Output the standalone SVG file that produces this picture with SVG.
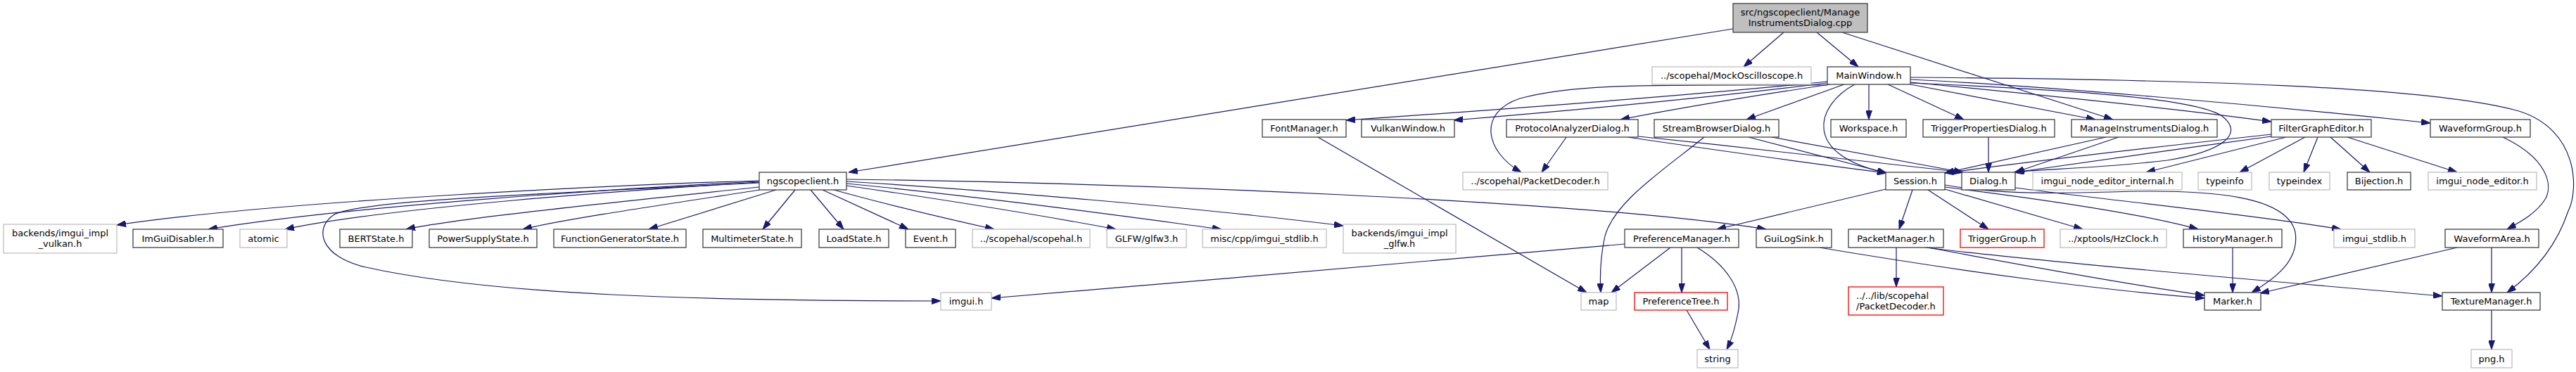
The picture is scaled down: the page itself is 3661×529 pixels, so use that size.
<svg xmlns="http://www.w3.org/2000/svg" width="3661" height="529" viewBox="0 0 3661 529">
<style>
text{font-family:"DejaVu Sans","Liberation Sans",sans-serif;font-size:13px;fill:#000;text-anchor:middle}
.n rect{fill:#fff;stroke:#404040;stroke-width:1.3}
.g rect{fill:#fff;stroke:#bfbfbf;stroke-width:1.3}
.r rect{fill:#fff;stroke:#ff0000;stroke-width:1.3}
.t rect{fill:#bfbfbf;stroke:#404040;stroke-width:1.3}
#edges path{fill:none;stroke:#191970;stroke-width:1.2;marker-end:url(#a)}
</style>
<defs>
<marker id="a" markerWidth="13" markerHeight="9" refX="13" refY="4.5" orient="auto" markerUnits="userSpaceOnUse"><path d="M0,0 L13,4.5 L0,9 z" fill="#191970" stroke="#191970" stroke-width="1"/></marker>
</defs>
<rect width="3661" height="529" fill="#fff"/>
<g id="edges">
<path d="M2463,41 L1206,245"/>
<path d="M2535,46 L2478,95"/>
<path d="M2582,46 L2641,95"/>
<path d="M2618,46 L3003,170"/>
<path d="M2597,116 C2400,136 2100,158 1913,171"/>
<path d="M2597,118 C2420,140 2200,160 2066,171"/>
<path d="M2601,120 C2500,135 2380,155 2303,170"/>
<path d="M2597,121 C2350,121 2240,118 2160,140 C2100,160 2110,215 2162,245"/>
<path d="M2621,120 L2482,170"/>
<path d="M2636,120 C2580,150 2560,220 2681,246"/>
<path d="M2656,120 L2656,170"/>
<path d="M2683,120 L2791,170"/>
<path d="M2715,120 L2978,170"/>
<path d="M2715,117 C2850,130 3100,155 3228,173"/>
<path d="M2715,113 C2900,122 3200,148 3454,175"/>
<path d="M2715,110 C3100,113 3450,122 3580,158 C3665,185 3665,270 3650,300 C3635,345 3605,385 3563,416"/>
<path d="M2715,118 C2950,128 3120,140 3158,165 C3190,190 3160,215 3080,228 C2980,240 2900,240 2862,245"/>
<path d="M2313,195 C2450,215 2600,236 2681,246"/>
<path d="M2329,194 C2500,212 2700,234 2790,245"/>
<path d="M2485,195 L2681,246"/>
<path d="M2518,195 L2790,245"/>
<path d="M2422,195 C2360,245 2290,290 2280,340 C2274,370 2274,400 2275,416"/>
<path d="M2826,195 L2826,245"/>
<path d="M2993,195 L2764,246"/>
<path d="M3011,195 L2864,245"/>
<path d="M3228,191 C3100,205 2900,228 2764,246"/>
<path d="M3228,194 C3100,211 2950,233 2864,245"/>
<path d="M3249,195 L3050,245"/>
<path d="M3276,195 L3183,245"/>
<path d="M3294,195 L3274,245"/>
<path d="M3312,195 L3368,245"/>
<path d="M3336,195 L3492,245"/>
<path d="M3557,195 C3620,225 3628,262 3618,282 C3606,302 3585,314 3563,326"/>
<path d="M1873,195 L2255,416"/>
<path d="M2226,195 L2191,245"/>
<path d="M2680,269 L2440,326"/>
<path d="M2718,270 L2699,326"/>
<path d="M2740,270 L2826,326"/>
<path d="M2764,269 L2960,326"/>
<path d="M2764,266 C2900,283 3050,305 3124,326"/>
<path d="M2764,263 C2830,275 2900,276 3000,273 C3150,268 3250,280 3262,330 C3268,370 3235,395 3200,416"/>
<path d="M2864,267 C3000,285 3200,305 3327,326"/>
<path d="M1079,257 C900,262 400,285 166,320"/>
<path d="M1079,258 C900,267 500,292 296,326"/>
<path d="M1079,259 C900,270 550,295 405,326"/>
<path d="M1079,260 C800,275 520,283 475,305 C445,325 455,365 520,380 C700,420 1000,428 1337,428"/>
<path d="M1079,266 C900,285 650,310 577,326"/>
<path d="M1080,270 C950,290 800,312 743,326"/>
<path d="M1103,270 L922,326"/>
<path d="M1130,270 L1084,326"/>
<path d="M1152,270 L1199,326"/>
<path d="M1169,270 L1291,326"/>
<path d="M1185,270 C1250,288 1350,312 1413,326"/>
<path d="M1203,264 C1350,285 1500,310 1586,326"/>
<path d="M1203,261 C1400,280 1600,308 1736,326"/>
<path d="M1203,258 C1400,270 1700,295 1909,321"/>
<path d="M1203,255 C1600,260 2250,285 2510,326"/>
<path d="M2309,347 C2100,365 1700,400 1409,424"/>
<path d="M2374,352 L2290,416"/>
<path d="M2390,352 L2390,416"/>
<path d="M2412,352 C2450,375 2478,410 2470,445 C2465,470 2460,485 2454,497"/>
<path d="M2397,441 L2430,497"/>
<path d="M2695,352 L2695,408"/>
<path d="M2736,352 C2900,372 3200,398 3471,421"/>
<path d="M2740,352 C2900,382 3050,408 3133,420"/>
<path d="M2586,352 C2800,388 3000,414 3133,424"/>
<path d="M3173,352 L3173,416"/>
<path d="M3492,352 L3212,417"/>
<path d="M3541,352 L3541,416"/>
<path d="M3541,441 L3541,497"/>
</g>
<g id="node_top" class="t"><rect x="2463" y="5" width="191" height="41"/><text x="2558.5" y="21.8">src/ngscopeclient/Manage</text><text x="2558.5" y="37.2">InstrumentsDialog.cpp</text></g>
<g id="node_mock" class="g"><rect x="2348" y="95" width="226" height="25"/><text x="2461" y="112">../scopehal/MockOscilloscope.h</text></g>
<g id="node_mainwindow" class="n"><rect x="2597" y="95" width="118" height="25"/><text x="2656" y="112">MainWindow.h</text></g>
<g id="node_fontmanager" class="n"><rect x="1794" y="170" width="119" height="25"/><text x="1853.5" y="187">FontManager.h</text></g>
<g id="node_vulkanwindow" class="n"><rect x="1935" y="170" width="132" height="25"/><text x="2001" y="187">VulkanWindow.h</text></g>
<g id="node_protocol" class="n"><rect x="2141" y="170" width="187" height="25"/><text x="2234.5" y="187">ProtocolAnalyzerDialog.h</text></g>
<g id="node_streambrowser" class="n"><rect x="2351" y="170" width="177" height="25"/><text x="2439.5" y="187">StreamBrowserDialog.h</text></g>
<g id="node_workspace" class="n"><rect x="2602" y="170" width="107" height="25"/><text x="2655.5" y="187">Workspace.h</text></g>
<g id="node_triggerprops" class="n"><rect x="2733" y="170" width="187" height="25"/><text x="2826.5" y="187">TriggerPropertiesDialog.h</text></g>
<g id="node_manageinst" class="n"><rect x="2944" y="170" width="207" height="25"/><text x="3047.5" y="187">ManageInstrumentsDialog.h</text></g>
<g id="node_filtergraph" class="n"><rect x="3228" y="170" width="142" height="25"/><text x="3299" y="187">FilterGraphEditor.h</text></g>
<g id="node_waveformgroup" class="n"><rect x="3454" y="170" width="142" height="25"/><text x="3525" y="187">WaveformGroup.h</text></g>
<g id="node_ngscopeclient" class="n"><rect x="1079" y="245" width="124" height="25"/><text x="1141" y="262">ngscopeclient.h</text></g>
<g id="node_packetdecoder" class="g"><rect x="2079" y="245" width="206" height="25"/><text x="2182" y="262">../scopehal/PacketDecoder.h</text></g>
<g id="node_session" class="n"><rect x="2680" y="245" width="84" height="25"/><text x="2722" y="262">Session.h</text></g>
<g id="node_dialog" class="n"><rect x="2788" y="245" width="76" height="25"/><text x="2826" y="262">Dialog.h</text></g>
<g id="node_nodeeditorinternal" class="g"><rect x="2889" y="245" width="212" height="25"/><text x="2995" y="262">imgui_node_editor_internal.h</text></g>
<g id="node_typeinfo" class="g"><rect x="3124" y="245" width="76" height="25"/><text x="3162" y="262">typeinfo</text></g>
<g id="node_typeindex" class="g"><rect x="3225" y="245" width="86" height="25"/><text x="3268" y="262">typeindex</text></g>
<g id="node_bijection" class="n"><rect x="3336" y="245" width="90" height="25"/><text x="3381" y="262">Bijection.h</text></g>
<g id="node_nodeeditor" class="g"><rect x="3451" y="245" width="154" height="25"/><text x="3528" y="262">imgui_node_editor.h</text></g>
<g id="node_implvulkan" class="g"><rect x="5" y="319" width="161" height="41"/><text x="85.5" y="335.5">backends/imgui_impl</text><text x="85.5" y="350.5">_vulkan.h</text></g>
<g id="node_imguidisabler" class="n"><rect x="189" y="326" width="128" height="26"/><text x="253" y="343.5">ImGuiDisabler.h</text></g>
<g id="node_atomic" class="g"><rect x="341" y="326" width="67" height="26"/><text x="374.5" y="343.5">atomic</text></g>
<g id="node_bertstate" class="n"><rect x="483" y="326" width="103" height="26"/><text x="534.5" y="343.5">BERTState.h</text></g>
<g id="node_powersupply" class="n"><rect x="610" y="326" width="153" height="26"/><text x="686.5" y="343.5">PowerSupplyState.h</text></g>
<g id="node_funcgen" class="n"><rect x="787" y="326" width="188" height="26"/><text x="881" y="343.5">FunctionGeneratorState.h</text></g>
<g id="node_multimeter" class="n"><rect x="999" y="326" width="140" height="26"/><text x="1069" y="343.5">MultimeterState.h</text></g>
<g id="node_loadstate" class="n"><rect x="1164" y="326" width="99" height="26"/><text x="1213.5" y="343.5">LoadState.h</text></g>
<g id="node_event" class="n"><rect x="1287" y="326" width="71" height="26"/><text x="1322.5" y="343.5">Event.h</text></g>
<g id="node_scopehal" class="g"><rect x="1382" y="326" width="167" height="26"/><text x="1465.5" y="343.5">../scopehal/scopehal.h</text></g>
<g id="node_glfw3" class="g"><rect x="1573" y="326" width="113" height="26"/><text x="1629.5" y="343.5">GLFW/glfw3.h</text></g>
<g id="node_miscstdlib" class="g"><rect x="1709" y="326" width="176" height="26"/><text x="1797" y="343.5">misc/cpp/imgui_stdlib.h</text></g>
<g id="node_implglfw" class="g"><rect x="1909" y="319" width="160" height="41"/><text x="1989" y="335.5">backends/imgui_impl</text><text x="1989" y="350.5">_glfw.h</text></g>
<g id="node_prefmanager" class="n"><rect x="2309" y="326" width="162" height="26"/><text x="2390" y="343.5">PreferenceManager.h</text></g>
<g id="node_guilogsink" class="n"><rect x="2496" y="326" width="107" height="26"/><text x="2549.5" y="343.5">GuiLogSink.h</text></g>
<g id="node_packetmanager" class="n"><rect x="2627" y="326" width="135" height="26"/><text x="2694.5" y="343.5">PacketManager.h</text></g>
<g id="node_triggergroup" class="r"><rect x="2786" y="326" width="119" height="26"/><text x="2845.5" y="343.5">TriggerGroup.h</text></g>
<g id="node_hzclock" class="g"><rect x="2928" y="326" width="151" height="26"/><text x="3003.5" y="343.5">../xptools/HzClock.h</text></g>
<g id="node_history" class="n"><rect x="3103" y="326" width="140" height="26"/><text x="3173" y="343.5">HistoryManager.h</text></g>
<g id="node_imguistdlib" class="g"><rect x="3317" y="326" width="115" height="26"/><text x="3374.5" y="343.5">imgui_stdlib.h</text></g>
<g id="node_waveformarea" class="n"><rect x="3475" y="326" width="133" height="26"/><text x="3541.5" y="343.5">WaveformArea.h</text></g>
<g id="node_imgui" class="g"><rect x="1337" y="416" width="72" height="25"/><text x="1373" y="433">imgui.h</text></g>
<g id="node_map" class="g"><rect x="2247" y="416" width="50" height="25"/><text x="2272" y="433">map</text></g>
<g id="node_preftree" class="r"><rect x="2323" y="416" width="132" height="25"/><text x="2389" y="433">PreferenceTree.h</text></g>
<g id="node_libpacketdecoder" class="r"><rect x="2627" y="408" width="135" height="40"/><text x="2638" y="425" style="text-anchor:start">../../lib/scopehal</text><text x="2638" y="439.5" style="text-anchor:start">/PacketDecoder.h</text></g>
<g id="node_marker" class="n"><rect x="3133" y="416" width="80" height="25"/><text x="3173" y="433">Marker.h</text></g>
<g id="node_texturemanager" class="n"><rect x="3471" y="416" width="139" height="25"/><text x="3540.5" y="433">TextureManager.h</text></g>
<g id="node_string" class="g"><rect x="2412" y="497" width="58" height="26"/><text x="2441" y="514.5">string</text></g>
<g id="node_png" class="g"><rect x="3512" y="497" width="58" height="26"/><text x="3541" y="514.5">png.h</text></g>
</svg>
